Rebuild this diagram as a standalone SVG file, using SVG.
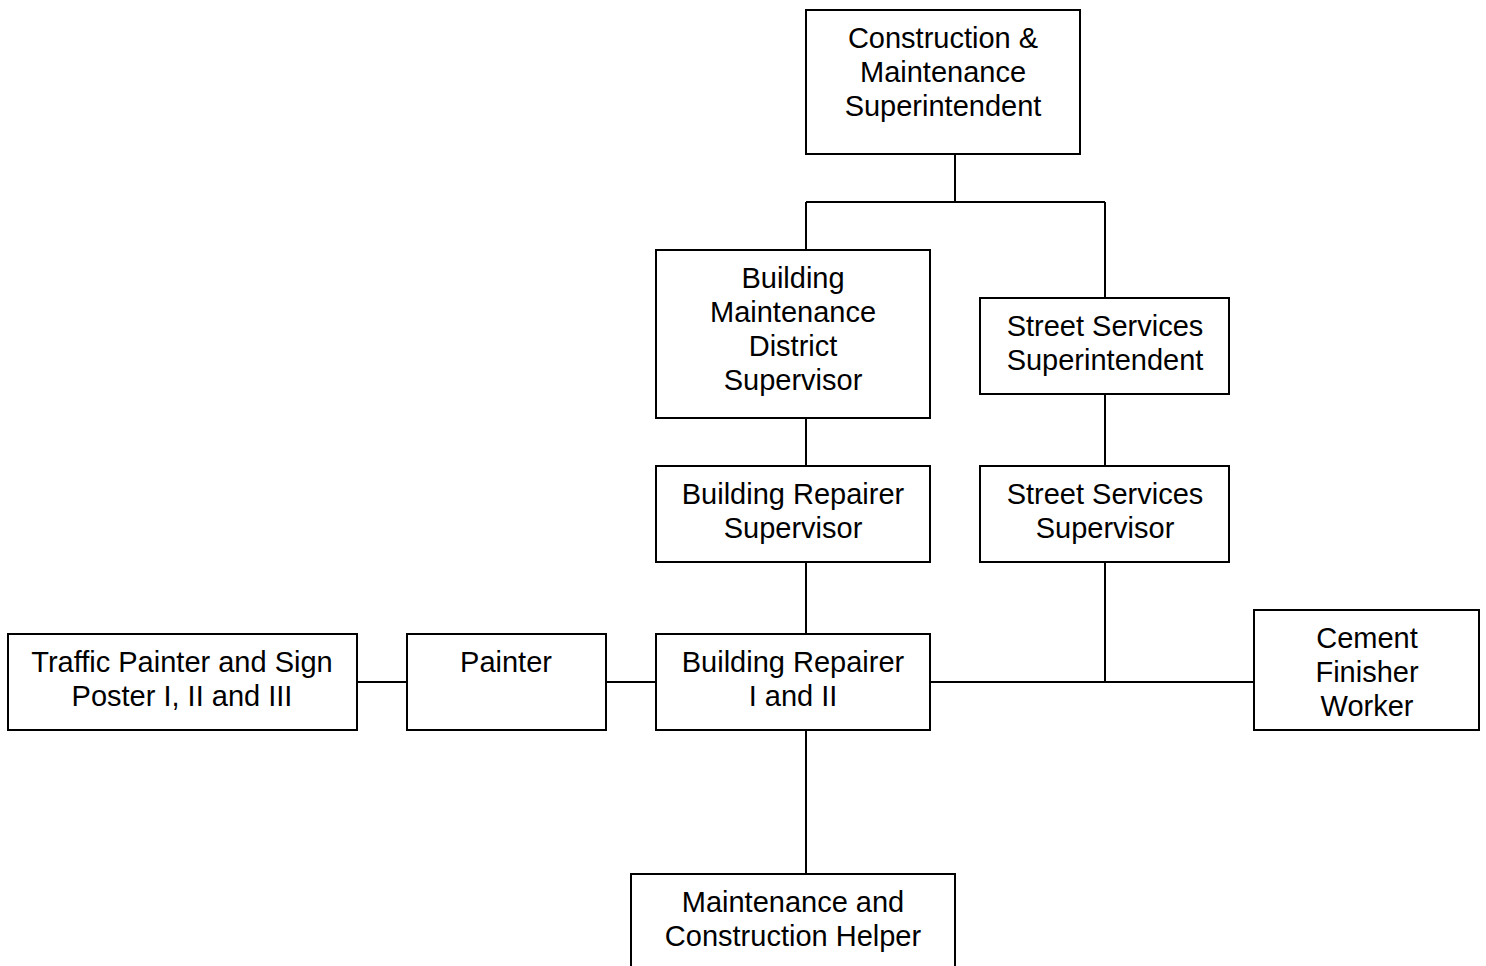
<svg xmlns="http://www.w3.org/2000/svg" width="1486" height="966" viewBox="0 0 1486 966">
<style>
rect.box{fill:#fff;stroke:#000;stroke-width:2}
.conn path{fill:none;stroke:#000;stroke-width:2}
text{font-family:"Liberation Sans",Arial,sans-serif;font-size:29px;fill:#000;text-anchor:middle}
</style>
<rect width="1486" height="966" fill="#fff"/>
<g class="conn" id="connectors">
<path d="M955 154V202M806 202H1105M806 202V250M1105 202V298"/>
<path d="M806 418V466M806 562V634M806 730V874"/>
<path d="M1105 394V466M1105 562V682"/>
<path d="M357 682H407M606 682H656M930 682H1254"/>
</g>
<g id="n-top"><rect class="box" x="806" y="10" width="274" height="144"/>
<text x="943"><tspan x="943" y="48">Construction &amp;</tspan><tspan x="943" y="82">Maintenance</tspan><tspan x="943" y="116">Superintendent</tspan></text></g>
<g id="n-bmds"><rect class="box" x="656" y="250" width="274" height="168"/>
<text><tspan x="793" y="288">Building</tspan><tspan x="793" y="322">Maintenance</tspan><tspan x="793" y="356">District</tspan><tspan x="793" y="390">Supervisor</tspan></text></g>
<g id="n-sssup"><rect class="box" x="980" y="298" width="249" height="96"/>
<text><tspan x="1105" y="336">Street Services</tspan><tspan x="1105" y="370">Superintendent</tspan></text></g>
<g id="n-brs"><rect class="box" x="656" y="466" width="274" height="96"/>
<text><tspan x="793" y="504">Building Repairer</tspan><tspan x="793" y="538">Supervisor</tspan></text></g>
<g id="n-sss"><rect class="box" x="980" y="466" width="249" height="96"/>
<text><tspan x="1105" y="504">Street Services</tspan><tspan x="1105" y="538">Supervisor</tspan></text></g>
<g id="n-traffic"><rect class="box" x="8" y="634" width="349" height="96"/>
<text><tspan x="182" y="672">Traffic Painter and Sign</tspan><tspan x="182" y="706">Poster I, II and III</tspan></text></g>
<g id="n-painter"><rect class="box" x="407" y="634" width="199" height="96"/>
<text x="506" y="672">Painter</text></g>
<g id="n-br"><rect class="box" x="656" y="634" width="274" height="96"/>
<text><tspan x="793" y="672">Building Repairer</tspan><tspan x="793" y="706">I and II</tspan></text></g>
<g id="n-cement"><rect class="box" x="1254" y="610" width="225" height="120"/>
<text><tspan x="1367" y="648">Cement</tspan><tspan x="1367" y="682">Finisher</tspan><tspan x="1367" y="716">Worker</tspan></text></g>
<g id="n-helper"><rect class="box" x="631" y="874" width="324" height="120"/>
<text><tspan x="793" y="912">Maintenance and</tspan><tspan x="793" y="946">Construction Helper</tspan></text></g>
</svg>
